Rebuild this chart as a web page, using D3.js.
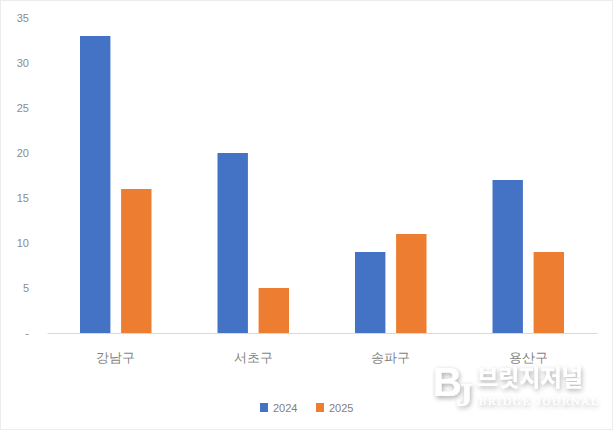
<!DOCTYPE html>
<html>
<head>
<meta charset="utf-8">
<script src="https://cdn.jsdelivr.net/npm/d3@7"></script>
<style>
  body { margin: 0; background: #fff; }
  svg { display: block; font-family: "Noto Sans CJK KR", "Noto Sans", sans-serif; }
</style>
</head>
<body>
<div id="chart"></div>
<script>
const districts = ["강남구", "서초구", "송파구", "용산구"];
const years = ["2024", "2025"];
const values2024 = [33, 20, 9, 17];
const values2025 = [16, 5, 11, 9];
const yTicks = [0, 5, 10, 15, 20, 25, 30, 35];
const colors = ["#4472c4", "#ed7d31"];

const W = 615, H = 435;
const margin = { top: 18, right: 18, bottom: 102, left: 47 };
const plotW = W - margin.left - margin.right;
const plotH = H - margin.top - margin.bottom;

const rows = districts.map((d, i) => ({ district: d, vals: [values2024[i], values2025[i]] }));

const svg = d3.select("#chart")
    .append("svg")
    .attr("width", W)
    .attr("height", H);

// faint frame
svg.append("rect")
    .attr("x", 0.5).attr("y", 0.5)
    .attr("width", W - 3).attr("height", H - 6)
    .attr("fill", "none")
    .attr("stroke", "#ececec");

const g = svg.append("g")
    .attr("transform", `translate(${margin.left},${margin.top})`);

const x0 = d3.scaleBand()
    .domain(districts)
    .range([0, plotW])
    .paddingInner(0.48)
    .paddingOuter(0.24);
const x1 = d3.scaleBand()
    .domain(years)
    .range([0, x0.bandwidth()])
    .paddingInner(0.26)
    .paddingOuter(0);
const y = d3.scaleLinear()
    .domain([0, 35])
    .range([plotH, 0]);

// y axis labels (no line)
const yAxis = g.append("g")
    .call(d3.axisLeft(y).tickValues(yTicks).tickSize(0).tickPadding(18)
        .tickFormat(d => d === 0 ? "-" : d));
yAxis.select(".domain").remove();
yAxis.selectAll("text")
    .attr("fill", "#8c8c8c")
    .style("font-size", "11px")
    .style("font-family", "Liberation Sans, sans-serif");

// bars
const groups = g.selectAll(".grp")
    .data(rows)
    .enter().append("g")
    .attr("class", "grp")
    .attr("transform", d => `translate(${x0(d.district)},0)`);
groups.selectAll("rect")
    .data(d => d.vals.map((v, i) => ({ year: years[i], v, i })))
    .enter().append("rect")
    .attr("x", d => x1(d.year))
    .attr("y", d => y(d.v))
    .attr("width", x1.bandwidth())
    .attr("height", d => plotH - y(d.v))
    .attr("fill", d => colors[d.i]);

// x axis
const xAxis = g.append("g")
    .attr("transform", `translate(0,${plotH})`)
    .call(d3.axisBottom(x0).tickSize(0).tickPadding(20));
xAxis.select(".domain").attr("stroke", "#d9d9d9");
xAxis.selectAll("text")
    .attr("fill", "#7f7f7f")
    .style("font-size", "13px");

// legend
const legend = svg.append("g")
    .attr("transform", "translate(260,408)");
const items = legend.selectAll("g")
    .data(years)
    .enter().append("g")
    .attr("transform", (d, i) => `translate(${i * 56},0)`);
items.append("rect")
    .attr("x", 0).attr("y", -5)
    .attr("width", 8).attr("height", 9)
    .attr("fill", (d, i) => colors[i]);
items.append("text")
    .attr("x", 13).attr("y", 4)
    .attr("fill", "#7f7f7f")
    .style("font-size", "11px")
    .style("font-family", "Liberation Sans, sans-serif")
    .text(d => d);

// watermark
const defs = svg.append("defs");
const f = defs.append("filter").attr("id", "shadow")
    .attr("x", "-20%").attr("y", "-20%").attr("width", "140%").attr("height", "160%");
f.append("feDropShadow")
    .attr("dx", 1).attr("dy", 2).attr("stdDeviation", 2.5)
    .attr("flood-color", "#000").attr("flood-opacity", 0.35);
const wm = svg.append("g").attr("filter", "url(#shadow)");
const logo = wm.append("text")
    .attr("x", 433).attr("y", 396)
    .attr("fill", "#fff")
    .style("font-weight", "bold");
logo.append("tspan")
    .style("font-size", "40px")
    .style("font-family", "Liberation Sans, sans-serif")
    .text("B");
logo.append("tspan")
    .attr("dx", -6).attr("dy", 10)
    .style("font-size", "34px")
    .style("font-family", "Liberation Serif, serif")
    .text("J");
wm.append("text")
    .attr("x", 477).attr("y", 386)
    .attr("fill", "#fff")
    .style("font-size", "23px")
    .style("font-weight", "bold")
    .text("브릿지저널");
wm.append("text")
    .attr("x", 479).attr("y", 405)
    .attr("fill", "#fff")
    .attr("textLength", 119)
    .style("font-size", "11px")
    .style("font-family", "Liberation Serif, serif")
    .text("BRIDGE JOURNAL");
</script>
</body>
</html>
